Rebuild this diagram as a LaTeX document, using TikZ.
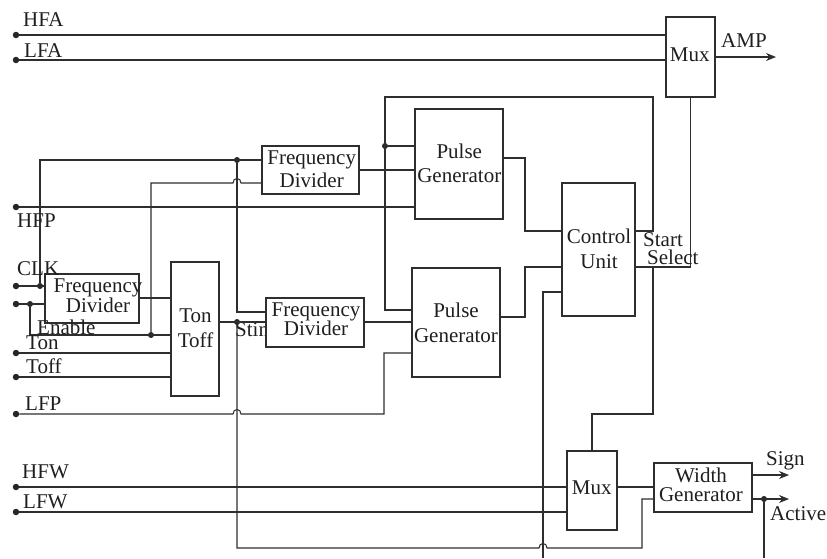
\documentclass[tikz,border=0pt]{standalone}
\usepackage{fontspec}
\setmainfont{Liberation Serif}
\usetikzlibrary{arrows.meta}
\begin{document}
\begin{tikzpicture}[x=1pt,y=-1pt,
  wire/.style={line width=1.05pt, draw=black!82},
  blk/.style={draw=black!82, line width=1.05pt, fill=white, inner sep=0pt},
  txt/.style={inner sep=0pt, align=center, text=black!88},
  lbl/.style={inner sep=0pt, text=black!88, anchor=base west},
  term/.style={circle, fill=black!85, inner sep=0pt, minimum size=6.5pt},
  jdot/.style={circle, fill=black!85, inner sep=0pt, minimum size=6pt},
  arr/.style={wire, -{Stealth[length=10pt,width=8pt]}},
  font=\fontsize{21}{24}\selectfont]
\useasboundingbox (0,0) rectangle (827,558);

% label partly hidden by the box
\node[lbl] (lStim) at (235,336) {Stim};

% blocks
\node[blk, minimum width=49pt, minimum height=80pt] (mux1) at (690.5,57) {};
\node[blk, minimum width=97pt, minimum height=48pt] (fd1) at (310.5,170) {};
\node[blk, minimum width=88pt, minimum height=110pt] (pg1) at (459,164) {};
\node[blk, minimum width=73pt, minimum height=133pt] (cu) at (598.5,249.5) {};
\node[blk, minimum width=94pt, minimum height=49pt] (fd0) at (92,298.5) {};
\node[blk, minimum width=48pt, minimum height=134pt] (tt) at (195,329) {};
\node[blk, minimum width=98pt, minimum height=49pt] (fd2) at (315,322.5) {};
\node[blk, minimum width=88pt, minimum height=109pt] (pg2) at (456,322.5) {};
\node[blk, minimum width=50pt, minimum height=79pt] (mux2) at (592,490.5) {};
\node[blk, minimum width=98pt, minimum height=49pt] (wg) at (703,487.5) {};

% block texts
\node[txt] (mux1t) at (689.7,54.5) {Mux};
\node[txt] (fd1t) at (311.7,169.5) {Frequency\\[-1pt]Divider};
\node[txt] (pg1t) at (459.3,162.9) {Pulse\\Generator};
\node[txt] (cut) at (599,249) {Control\\[1pt]Unit};
\node[txt] (fd0t) at (98,295.3) {Frequency\\[-4pt]Divider};
\node[txt] (ttt) at (195.5,328.3) {Ton\\[0.5pt]Toff};
\node[txt] (fd2t) at (316,319.7) {Frequency\\[-5pt]Divider};
\node[txt] (pg2t) at (456,322.5) {Pulse\\[1pt]Generator};
\node[txt] (mux2t) at (591.7,487.5) {Mux};
\node[txt] (wgt) at (701,484.5) {Width\\[-5pt]Generator};

% terminals
\node[term] (tHFA) at (16,35) {};
\node[term] (tLFA) at (16,60) {};
\node[term] (tHFP) at (16,207) {};
\node[term] (tCLK) at (16,286) {};
\node[term] (tEN) at (16,304) {};
\node[term] (tTon) at (16,353) {};
\node[term] (tToff) at (16,377) {};
\node[term] (tLFP) at (16,414) {};
\node[term] (tHFW) at (16,487) {};
\node[term] (tLFW) at (16,512) {};

% junctions
\node[jdot] (jLoop) at (385,146) {};
\node[jdot] (jFD) at (237,160) {};
\node[jdot] (jCLK) at (40,286) {};
\node[jdot] (jEN) at (30,304) {};
\node[jdot] (jEN2) at (151,335) {};
\node[jdot] (jStim) at (237,322) {};
\node[jdot] (jAct) at (764,499) {};
\coordinate (selJ) at (653,267);
\coordinate (bCU) at (543,558);
\coordinate (bAct) at (764,558);
\coordinate (aAMP) at (776,57);
\coordinate (aSign) at (789,475);
\coordinate (aAct) at (789,499);

% wires
\draw[wire] (tHFA) -- (tHFA -| mux1.west);
\draw[wire] (tLFA) -- (tLFA -| mux1.west);
\draw[arr] (mux1.east) -- (aAMP);
\draw[wire] (cu.east |- 0,267) -| (mux1.south);
\draw[wire] (selJ) |- (mux2.north |- 0,414) -- (mux2.north);
\draw[wire] (cu.east |- 0,231) -- (653,231) -- (653,97) -- (385,97) |- (pg2.west |- 0,310);
\draw[wire] (jLoop) -- (pg1.west |- jLoop);
\draw[wire] (pg1.east |- 0,158) -- (525,158) |- (cu.west |- 0,231);
\draw[wire] (pg2.east |- 0,317) -- (525,317) |- (cu.west |- 0,267);
\draw[wire] (bCU) |- (cu.west |- 0,292);
\draw[wire] (fd1.east) -- (pg1.west |- fd1.east);
\draw[wire] (tHFP) -- (tHFP -| pg1.west);
\draw[wire] (tCLK) -- (tCLK -| fd0.west);
\draw[wire] (jCLK) |- (fd1.west |- 0,160);
\draw[wire] (jFD) |- (fd2.west |- 0,312);
\draw[wire] (tEN) -- (tEN -| fd0.west);
\draw[wire] (jEN) |- (tt.west |- 0,335);
\draw[wire] (jEN2) -- (151,183) -- (233,183) .. controls (233,177) and (241,177) .. (241,183) -- (fd1.west |- 0,183);
\draw[wire] (fd0.east |- 0,298) -- (tt.west |- 0,298);
\draw[wire] (tTon) -- (tTon -| tt.west);
\draw[wire] (tToff) -- (tToff -| tt.west);
\draw[wire] (tt.east |- 0,322) -- (fd2.west |- 0,322);
\draw[wire] (fd2.east |- 0,322) -- (pg2.west |- 0,322);
\draw[wire] (tLFP) -- (233,414) .. controls (233,408) and (241,408) .. (241,414) -- (384,414) |- (pg2.west |- 0,353);
\draw[wire] (tHFW) -- (tHFW -| mux2.west);
\draw[wire] (tLFW) -- (tLFW -| mux2.west);
\draw[wire] (mux2.east |- 0,487) -- (wg.west |- 0,487);
\draw[wire] (jStim) -- (237,548) -- (539,548) .. controls (539,542) and (547,542) .. (547,548) -- (642,548) |- (wg.west |- 0,499);
\draw[arr] (wg.east |- 0,475) -- (aSign);
\draw[arr] (wg.east |- 0,499) -- (aAct);
\draw[wire] (jAct) -- (bAct);

% labels
\node[lbl] (lHFA) at (23,26) {HFA};
\node[lbl] (lLFA) at (24,57) {LFA};
\node[lbl] (lHFP) at (17,227) {HFP};
\node[lbl] (lCLK) at (17,275) {CLK};
\node[lbl] (lEn) at (37,334) {Enable};
\node[lbl] (lTon) at (26,349) {Ton};
\node[lbl] (lToff) at (26,373) {Toff};
\node[lbl] (lLFP) at (25,410) {LFP};
\node[lbl] (lHFW) at (22,478) {HFW};
\node[lbl] (lLFW) at (23,508) {LFW};
\node[lbl] (lAMP) at (721,47) {AMP};
\node[lbl] (lStart) at (643,246) {Start};
\node[lbl] (lSel) at (647,264) {Select};
\node[lbl] (lSign) at (766,465) {Sign};
\node[lbl] (lAct) at (770,520) {Active};
\end{tikzpicture}
\end{document}
